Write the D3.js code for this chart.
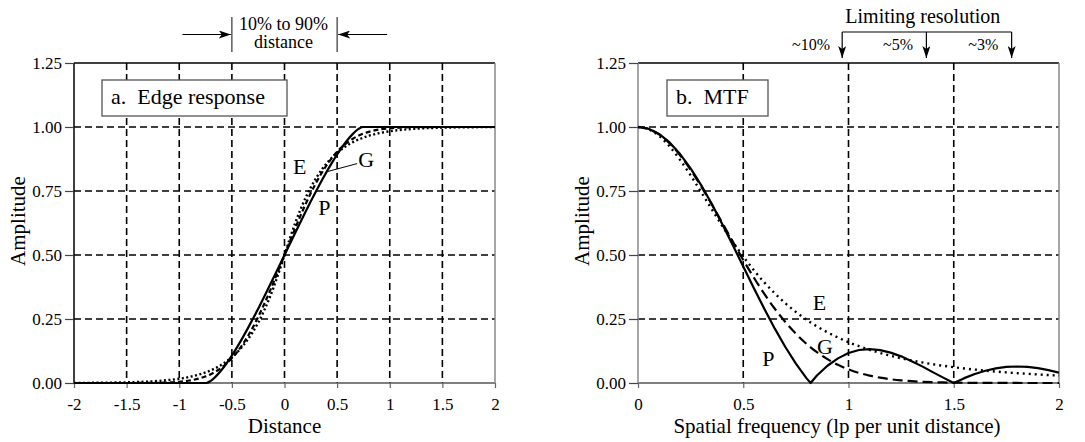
<!DOCTYPE html>
<html><head><meta charset="utf-8">
<script src="https://cdn.jsdelivr.net/npm/d3@7"></script>
<style>
body{margin:0;background:#fff}
svg{display:block}
text{font-family:"Liberation Serif","Times New Roman",serif;fill:#000}
</style>
</head><body>
<svg id="chart" width="1085" height="442"></svg>
<script>
// ---------- data ----------
const edgeDistance = [-2, -1.8, -1.6, -1.5, -1.4, -1.3, -1.2, -1.1, -1.0, -0.9, -0.8, -0.745,
  -0.7, -0.65, -0.6, -0.55, -0.5, -0.45, -0.4, -0.35, -0.3, -0.25, -0.2, -0.15, -0.1, -0.05,
  0,
  0.05, 0.1, 0.15, 0.2, 0.25, 0.3, 0.35, 0.4, 0.45, 0.5, 0.55, 0.6, 0.65, 0.7,
  0.745, 0.8, 0.9, 1.0, 1.1, 1.2, 1.3, 1.4, 1.5, 1.6, 1.8, 2];
const edgeP = [0, 0, 0, 0, 0, 0, 0, 0, 0, 0, 0, 0,
  0.0084, 0.0269, 0.0498, 0.0771, 0.1074, 0.1404, 0.1754, 0.2123, 0.2507, 0.2904, 0.3312, 0.3727, 0.4148, 0.4573,
  0.5,
  0.5427, 0.5852, 0.6273, 0.6688, 0.7096, 0.7493, 0.7877, 0.8246, 0.8596, 0.8926, 0.9229, 0.9502, 0.9731, 0.9916,
  1, 1, 1, 1, 1, 1, 1, 1, 1, 1, 1, 1];
const edgeE = [0.0004, 0.0008, 0.0018, 0.0026, 0.0038, 0.0055, 0.0080, 0.0116, 0.0166, 0.0240, 0.0345, 0.0422,
  0.0495, 0.0593, 0.0709, 0.0848, 0.1011, 0.1202, 0.1427, 0.1692, 0.2000, 0.2359, 0.2772, 0.3243, 0.3776, 0.4366,
  0.5,
  0.5634, 0.6224, 0.6757, 0.7228, 0.7641, 0.8000, 0.8308, 0.8573, 0.8798, 0.8989, 0.9152, 0.9291, 0.9407, 0.9505,
  0.9578, 0.9655, 0.9760, 0.9834, 0.9884, 0.9920, 0.9945, 0.9962, 0.9974, 0.9982, 0.9992, 0.9996];
const edgeG = [0, 0, 0, 0, 0.0001, 0.0004, 0.0009, 0.0021, 0.0047, 0.0097, 0.0189, 0.0265,
  0.0345, 0.0457, 0.0596, 0.0766, 0.0970, 0.1212, 0.1494, 0.1817, 0.2179, 0.2580, 0.3018, 0.3483, 0.3974, 0.4483,
  0.5,
  0.5517, 0.6026, 0.6517, 0.6982, 0.7420, 0.7821, 0.8183, 0.8506, 0.8788, 0.9030, 0.9234, 0.9404, 0.9543, 0.9655,
  0.9735, 0.9811, 0.9903, 0.9953, 0.9979, 0.9991, 0.9996, 0.9999, 1, 1, 1, 1];

const mtfFrequency = [0, 0.05, 0.1, 0.15, 0.2, 0.25, 0.3, 0.35, 0.4, 0.45, 0.5, 0.55, 0.6, 0.65, 0.7, 0.75, 0.8,
  0.82, 0.85, 0.9, 0.95, 1.0, 1.05, 1.1, 1.15, 1.2, 1.25, 1.3, 1.35, 1.4, 1.45, 1.5, 1.55, 1.6, 1.65, 1.7, 1.75,
  1.8, 1.85, 1.9, 1.95, 2.0];
const mtfP = [1, 0.9932, 0.9729, 0.9397, 0.8944, 0.8384, 0.7730, 0.7001, 0.6214, 0.5391, 0.4549, 0.3711, 0.2897,
  0.2123, 0.1405, 0.0757, 0.0191, 0.0, 0.0292, 0.0674, 0.0962, 0.1174, 0.1290, 0.1323, 0.1286, 0.1186, 0.1041,
  0.0852, 0.0649, 0.0424, 0.0209, 0.0, 0.0190, 0.0354, 0.0480, 0.0574, 0.0628, 0.0644, 0.0627, 0.0578, 0.0501, 0.0407];
const mtfE = [1, 0.9911, 0.9650, 0.9241, 0.8715, 0.8109, 0.7458, 0.6793, 0.6142, 0.5521, 0.4941, 0.4410, 0.3930,
  0.3499, 0.3115, 0.2776, 0.2476, 0.2366, 0.2212, 0.1980, 0.1775, 0.1595, 0.1436, 0.1296, 0.1173, 0.1063, 0.0966,
  0.0880, 0.0803, 0.0734, 0.0673, 0.0618, 0.0568, 0.0524, 0.0484, 0.0447, 0.0414, 0.0385, 0.0358, 0.0333, 0.0310, 0.0290];
const mtfG = [1, 0.9927, 0.9711, 0.9362, 0.8894, 0.8327, 0.7682, 0.6984, 0.6258, 0.5525, 0.4807, 0.4122, 0.3483,
  0.2900, 0.2380, 0.1924, 0.1533, 0.1394, 0.1204, 0.0932, 0.0710, 0.0534, 0.0395, 0.0289, 0.0208, 0.0147, 0.0103,
  0.0071, 0.0048, 0.0032, 0.0021, 0.0014, 0.0009, 0.0006, 0.0003, 0.0002, 0.0001, 0.0001, 0, 0, 0, 0];

const edgeTicks = [-2, -1.5, -1, -0.5, 0, 0.5, 1, 1.5, 2];
const mtfTicks = [0, 0.5, 1, 1.5, 2];
const amplitudeTicks = [0, 0.25, 0.5, 0.75, 1, 1.25];
const limitingFreqs = [0.97, 1.37, 1.775];
const limitingLabels = ["~10%", "~5%", "~3%"];

// ---------- drawing ----------
const svg = d3.select('#chart');
svg.append('rect').attr('width', 1085).attr('height', 442).attr('fill', '#fff');

const defs = svg.append('defs');
defs.append('marker').attr('id', 'ah')
  .attr('viewBox', '0 0 12 8').attr('refX', 12).attr('refY', 4)
  .attr('markerWidth', 12).attr('markerHeight', 8).attr('markerUnits', 'userSpaceOnUse')
  .attr('orient', 'auto')
  .append('path').attr('d', 'M0,0 L12,4 L0,8 L3,4 z').attr('fill', '#000');

const yScale = d3.scaleLinear().domain([0, 1.25]).range([383, 63]);

function panel(cfg) {
  const x = d3.scaleLinear().domain(cfg.domain).range(cfg.range);
  const g = svg.append('g');
  const [x0, x1] = cfg.range;

  // grid
  const gridX = cfg.ticks.filter(t => t > cfg.domain[0] && t < cfg.domain[1]);
  g.selectAll('.vg').data(gridX).join('line')
    .attr('x1', d => x(d)).attr('x2', d => x(d)).attr('y1', yScale(1.25)).attr('y2', yScale(0))
    .attr('stroke', '#000').attr('stroke-width', 1.6).attr('stroke-dasharray', '7,4');
  g.selectAll('.hg').data([0.25, 0.5, 0.75, 1]).join('line')
    .attr('x1', x0).attr('x2', x1).attr('y1', d => yScale(d)).attr('y2', d => yScale(d))
    .attr('stroke', '#000').attr('stroke-width', 1.6).attr('stroke-dasharray', '7,4');

  // frame
  g.append('line').attr('x1', x0).attr('x2', x1).attr('y1', yScale(1.25)).attr('y2', yScale(1.25))
    .attr('stroke', '#000').attr('stroke-width', 1.5);
  g.append('line').attr('x1', x0).attr('x2', x1).attr('y1', yScale(0)).attr('y2', yScale(0))
    .attr('stroke', '#555').attr('stroke-width', 1.5);
  g.append('line').attr('x1', x0).attr('x2', x0).attr('y1', yScale(1.25)).attr('y2', yScale(0))
    .attr('stroke', cfg.leftColor).attr('stroke-width', 1.5);
  g.append('line').attr('x1', x1).attr('x2', x1).attr('y1', yScale(1.25)).attr('y2', yScale(0))
    .attr('stroke', '#888').attr('stroke-width', 1.5);

  // axes
  const ya = g.append('g').attr('transform', `translate(${x0},0)`)
    .call(d3.axisLeft(yScale).tickValues(amplitudeTicks).tickFormat(d3.format('.2f')).tickSize(9).tickPadding(3));
  ya.select('.domain').remove();
  ya.selectAll('line').attr('stroke', '#444').attr('stroke-width', 1.2);
  ya.selectAll('text').attr('font-size', 17).attr('font-family', '"Liberation Serif",serif').attr('fill', '#000');

  const xa = g.append('g').attr('transform', `translate(0,${yScale(0)})`)
    .call(d3.axisBottom(x).tickValues(cfg.ticks).tickFormat(d => String(d)).tickSize(5).tickPadding(10));
  xa.select('.domain').remove();
  xa.selectAll('line').attr('stroke', '#666').attr('stroke-width', 1.2);
  xa.selectAll('text').attr('font-size', 17).attr('font-family', '"Liberation Serif",serif').attr('fill', '#000');

  // titles
  g.append('text').attr('x', cfg.xTitleX).attr('y', 433).attr('text-anchor', 'middle')
    .attr('font-size', 21).text(cfg.xTitle);
  g.append('text').attr('transform', `translate(${x0 - 49},${(yScale(0) + yScale(1.25)) / 2 - 2}) rotate(-90)`)
    .attr('text-anchor', 'middle').attr('font-size', 21).text('Amplitude');

  // curves
  const clipId = 'clip' + cfg.id;
  defs.append('clipPath').attr('id', clipId).append('rect')
    .attr('x', x0).attr('y', yScale(1.25)).attr('width', x1 - x0).attr('height', yScale(0) - yScale(1.25) + 2);
  const cg = g.append('g').attr('clip-path', `url(#${clipId})`);
  cfg.series.forEach(s => {
    const line = d3.line().x((d, i) => x(cfg.xs[i])).y(d => yScale(d)).curve(s.curve);
    cg.append('path').datum(s.values).attr('d', line).attr('fill', 'none')
      .attr('stroke', '#000').attr('stroke-width', s.width).attr('stroke-dasharray', s.dash)
      .attr('stroke-linejoin', 'round');
  });

  // title box
  const box = g.append('g');
  box.append('rect').attr('x', cfg.box[0]).attr('y', 80).attr('width', cfg.box[1]).attr('height', 36)
    .attr('fill', '#fff').attr('stroke', '#555').attr('stroke-width', 1.3);
  box.append('text').attr('x', cfg.box[0] + 9).attr('y', 104).attr('font-size', 22)
    .attr('xml:space', 'preserve').style('white-space', 'pre').text(cfg.boxText);

  // curve labels
  cfg.labels.forEach(l => {
    g.append('text').attr('x', x(l[1])).attr('y', yScale(l[2])).attr('font-size', 22).text(l[0]);
  });
  return { g, x };
}

const left = panel({
  id: 'a', domain: [-2, 2], range: [74, 495], ticks: edgeTicks, leftColor: '#000',
  xTitle: 'Distance', xTitleX: 284.5, xs: edgeDistance,
  series: [
    { values: edgeE, dash: '2,2.5', width: 2.4, curve: d3.curveMonotoneX },
    { values: edgeG, dash: '5,3', width: 2.2, curve: d3.curveMonotoneX },
    { values: edgeP, dash: null, width: 2.2, curve: d3.curveMonotoneX }
  ],
  box: [102, 185], boxText: 'a.  Edge response',
  labels: [['E', 0.08, 0.818], ['G', 0.70, 0.845], ['P', 0.32, 0.655]]
});
// G leader line
left.g.append('line').attr('x1', left.x(0.40)).attr('y1', yScale(0.825))
  .attr('x2', left.x(0.69)).attr('y2', yScale(0.857)).attr('stroke', '#000').attr('stroke-width', 1);

// 10% to 90% annotation
[-0.5, 0.5].forEach(v => {
  left.g.append('line').attr('x1', left.x(v)).attr('x2', left.x(v)).attr('y1', 17).attr('y2', 52)
    .attr('stroke', '#333').attr('stroke-width', 1.2);
});
left.g.append('line').attr('x1', left.x(-0.97)).attr('x2', left.x(-0.51)).attr('y1', 34.5).attr('y2', 34.5)
  .attr('stroke', '#000').attr('stroke-width', 1.2).attr('marker-end', 'url(#ah)');
left.g.append('line').attr('x1', left.x(0.975)).attr('x2', left.x(0.51)).attr('y1', 34.5).attr('y2', 34.5)
  .attr('stroke', '#000').attr('stroke-width', 1.2).attr('marker-end', 'url(#ah)');
left.g.append('text').attr('x', left.x(-0.01)).attr('y', 30).attr('text-anchor', 'middle').attr('font-size', 18).text('10% to 90%');
left.g.append('text').attr('x', left.x(-0.01)).attr('y', 48).attr('text-anchor', 'middle').attr('font-size', 18).text('distance');

const right = panel({
  id: 'b', domain: [0, 2], range: [638, 1059], ticks: mtfTicks, leftColor: '#888',
  xTitle: 'Spatial frequency (lp per unit distance)', xTitleX: 837, xs: mtfFrequency,
  series: [
    { values: mtfE, dash: '2,4', width: 2.4, curve: d3.curveMonotoneX },
    { values: mtfG, dash: '10,5', width: 2.2, curve: d3.curveMonotoneX },
    { values: mtfP, dash: null, width: 2.2, curve: d3.curveLinear }
  ],
  box: [667, 101], boxText: 'b.  MTF',
  labels: [['E', 0.83, 0.287], ['G', 0.85, 0.115], ['P', 0.59, 0.065]]
});

// Limiting resolution annotation
right.g.append('text').attr('x', right.x(1.353)).attr('y', 23).attr('text-anchor', 'middle')
  .attr('font-size', 20).text('Limiting resolution');
right.g.append('line').attr('x1', right.x(limitingFreqs[0])).attr('x2', right.x(limitingFreqs[2]))
  .attr('y1', 32).attr('y2', 32).attr('stroke', '#000').attr('stroke-width', 1.2);
limitingFreqs.forEach(f => {
  right.g.append('line').attr('x1', right.x(f)).attr('x2', right.x(f)).attr('y1', 32).attr('y2', 58)
    .attr('stroke', '#000').attr('stroke-width', 1.2).attr('marker-end', 'url(#ah)');
});
const labPos = [[0.912, 'end'], [1.235, 'middle'], [1.64, 'middle']];
limitingLabels.forEach((t, i) => {
  right.g.append('text').attr('x', right.x(labPos[i][0])).attr('y', 50)
    .attr('text-anchor', labPos[i][1]).attr('font-size', 16).text(t);
});
</script>
</body></html>
